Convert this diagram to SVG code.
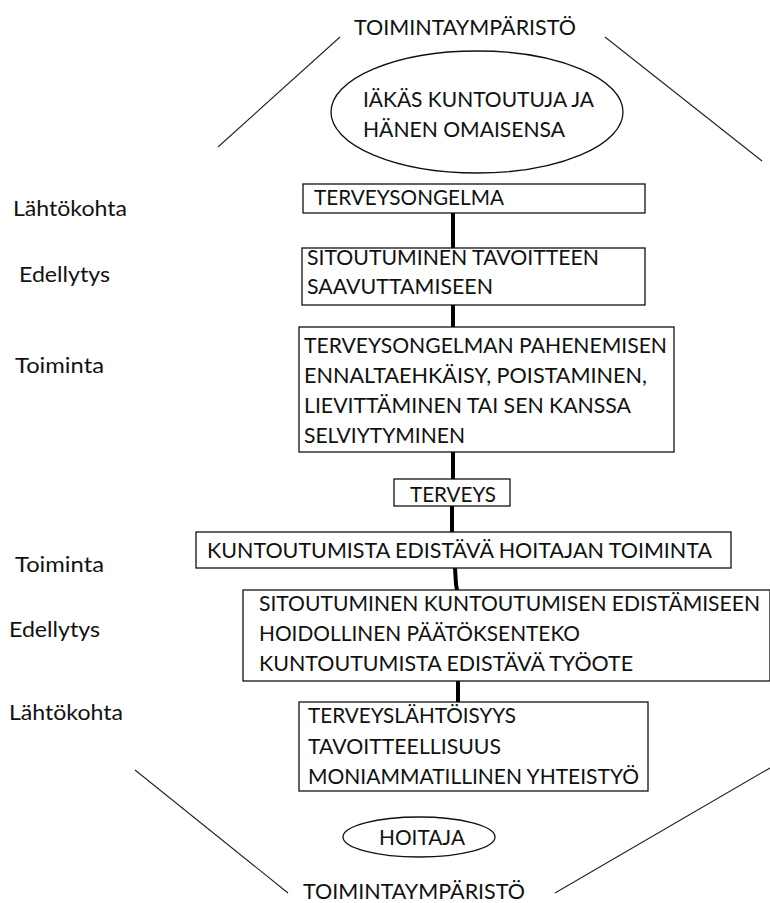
<svg xmlns="http://www.w3.org/2000/svg" width="770" height="903" viewBox="0 0 770 903">
  <style>
    text { font-family: "Lato", "Carlito", "Liberation Sans", sans-serif; font-size: 22px; fill: #111; }
    .box { fill: #fff; stroke: #111; stroke-width: 1.3; }
    .ell { fill: #fff; stroke: #111; stroke-width: 1.3; }
    .env { stroke: #222; stroke-width: 1.1; fill: none; }
    .conn { stroke: #000; stroke-width: 4; fill: none; }
  </style>
  <rect width="770" height="903" fill="#fff"/>

  <g id="environment">
    <line class="env" x1="340" y1="37" x2="218" y2="147"/>
    <line class="env" x1="605" y1="37" x2="762" y2="161"/>
    <line class="env" x1="135" y1="770" x2="288" y2="893"/>
    <line class="env" x1="555" y1="893" x2="770" y2="768"/>
    <text x="354" y="35" textLength="222" lengthAdjust="spacingAndGlyphs">TOIMINTAYMPÄRISTÖ</text>
    <text x="303" y="899" textLength="222" lengthAdjust="spacingAndGlyphs">TOIMINTAYMPÄRISTÖ</text>
  </g>

  <g id="labels">
    <text x="13" y="216" textLength="114" lengthAdjust="spacingAndGlyphs">Lähtökohta</text>
    <text x="19" y="282" textLength="91" lengthAdjust="spacingAndGlyphs">Edellytys</text>
    <text x="15" y="373" textLength="89" lengthAdjust="spacingAndGlyphs">Toiminta</text>
    <text x="15" y="572" textLength="89" lengthAdjust="spacingAndGlyphs">Toiminta</text>
    <text x="9" y="637" textLength="91" lengthAdjust="spacingAndGlyphs">Edellytys</text>
    <text x="9" y="720" textLength="114" lengthAdjust="spacingAndGlyphs">Lähtökohta</text>
  </g>

  <g id="connectors">
    <line class="conn" x1="453" y1="213" x2="453" y2="248"/>
    <line class="conn" x1="453" y1="305" x2="453" y2="327"/>
    <line class="conn" x1="453" y1="452" x2="453" y2="479"/>
    <line class="conn" x1="452" y1="506" x2="452" y2="532"/>
    <path class="conn" d="M455,568 L456,584 L457,590"/>
    <line class="conn" x1="458" y1="681" x2="458" y2="702"/>
  </g>

  <g id="kuntoutuja">
    <ellipse class="ell" cx="477" cy="112" rx="146" ry="61"/>
    <text x="363" y="107" textLength="231" lengthAdjust="spacingAndGlyphs">IÄKÄS KUNTOUTUJA JA</text>
    <text x="363" y="137" textLength="202" lengthAdjust="spacingAndGlyphs">HÄNEN OMAISENSA</text>
  </g>

  <g id="terveysongelma">
    <rect class="box" x="303" y="184" width="342" height="29"/>
    <text x="314" y="205" textLength="190" lengthAdjust="spacingAndGlyphs">TERVEYSONGELMA</text>
  </g>

  <g id="sitoutuminen">
    <rect class="box" x="302" y="248" width="343" height="57"/>
    <text x="307" y="265" textLength="292" lengthAdjust="spacingAndGlyphs">SITOUTUMINEN TAVOITTEEN</text>
    <text x="307" y="294" textLength="186" lengthAdjust="spacingAndGlyphs">SAAVUTTAMISEEN</text>
  </g>

  <g id="toiminta1">
    <rect class="box" x="299" y="327" width="375" height="125"/>
    <text x="304" y="353" textLength="363" lengthAdjust="spacingAndGlyphs">TERVEYSONGELMAN PAHENEMISEN</text>
    <text x="304" y="383" textLength="343" lengthAdjust="spacingAndGlyphs">ENNALTAEHKÄISY, POISTAMINEN,</text>
    <text x="304" y="413" textLength="327" lengthAdjust="spacingAndGlyphs">LIEVITTÄMINEN TAI SEN KANSSA</text>
    <text x="304" y="443" textLength="161" lengthAdjust="spacingAndGlyphs">SELVIYTYMINEN</text>
  </g>

  <g id="terveys">
    <rect class="box" x="394" y="479" width="116" height="27"/>
    <text x="410" y="502" textLength="86" lengthAdjust="spacingAndGlyphs">TERVEYS</text>
  </g>

  <g id="hoitajan-toiminta">
    <rect class="box" x="196" y="532" width="535" height="36"/>
    <text x="207" y="558" textLength="505" lengthAdjust="spacingAndGlyphs">KUNTOUTUMISTA EDISTÄVÄ HOITAJAN TOIMINTA</text>
  </g>

  <g id="edellytys2">
    <rect class="box" x="243" y="590" width="527" height="91"/>
    <text x="259" y="611" textLength="501" lengthAdjust="spacingAndGlyphs">SITOUTUMINEN KUNTOUTUMISEN EDISTÄMISEEN</text>
    <text x="259" y="641" textLength="321" lengthAdjust="spacingAndGlyphs">HOIDOLLINEN PÄÄTÖKSENTEKO</text>
    <text x="259" y="671" textLength="374" lengthAdjust="spacingAndGlyphs">KUNTOUTUMISTA EDISTÄVÄ TYÖOTE</text>
  </g>

  <g id="lahtokohta2">
    <rect class="box" x="299" y="702" width="349" height="89"/>
    <text x="308" y="723" textLength="208" lengthAdjust="spacingAndGlyphs">TERVEYSLÄHTÖISYYS</text>
    <text x="308" y="754" textLength="193" lengthAdjust="spacingAndGlyphs">TAVOITTEELLISUUS</text>
    <text x="308" y="784" textLength="331" lengthAdjust="spacingAndGlyphs">MONIAMMATILLINEN YHTEISTYÖ</text>
  </g>

  <g id="hoitaja">
    <ellipse class="ell" cx="419" cy="837" rx="76" ry="20"/>
    <text x="379" y="845" textLength="86" lengthAdjust="spacingAndGlyphs">HOITAJA</text>
  </g>
</svg>
